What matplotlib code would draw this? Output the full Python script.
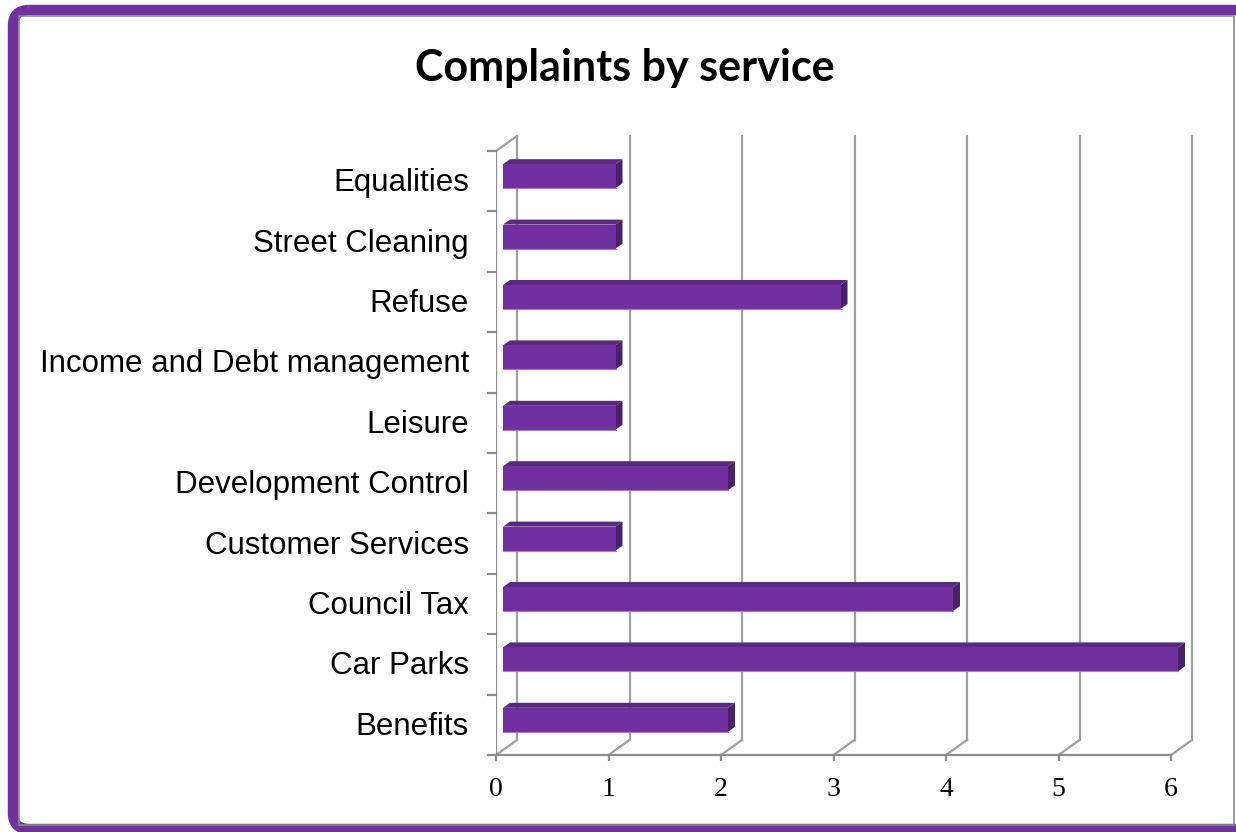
import matplotlib.pyplot as plt
from matplotlib.patches import Polygon, FancyBboxPatch, Rectangle

# data
services = ["Benefits", "Car Parks", "Council Tax", "Customer Services",
            "Development Control", "Leisure", "Income and Debt management",
            "Refuse", "Street Cleaning", "Equalities"]
complaints = [2, 6, 4, 1, 2, 1, 1, 3, 1, 1]
xticks = [0, 1, 2, 3, 4, 5, 6]

W, H = 1236, 832
fig = plt.figure(figsize=(W / 100, H / 100), dpi=100)

# background frame (pixel coordinates)
bg = fig.add_axes([0, 0, 1, 1])
bg.set_xlim(0, W)
bg.set_ylim(H, 0)
bg.axis("off")
bg.add_patch(FancyBboxPatch((13, 10), 1260, 819, boxstyle="round,pad=0,rounding_size=16",
                            fill=False, ec="#7030A0", lw=7.5, clip_on=False))
bg.add_patch(Rectangle((19, 16), 1215, 809, fill=False, ec="#8a8a8a", lw=1.2))

# main axes: front plane x 0..6 -> px 496..1171, y 0..10 -> px 755..151
px_x = (1171 - 496) / 6
px_y = (755 - 151) / 10
x0, x1 = 0, 6.3
y0, y1 = -0.1, 10.4
left = 496 + x0 * px_x
bottom = 755 - y0 * px_y
ax = fig.add_axes([left / W, (H - bottom) / H,
                   (x1 - x0) * px_x / W, (y1 - y0) * px_y / H])
ax.set_xlim(x0, x1)
ax.set_ylim(y0, y1)
ax.axis("off")

DX = 21 / px_x      # depth offset of the back wall
DY = 15 / px_y
dx, dy = DX / 3, DY / 3
n = len(services)
grid_c = "#a0a0a0"

# back wall gridlines and floor diagonals
for t in xticks:
    ax.plot([t + DX, t + DX], [DY, n + DY], color=grid_c, lw=1.6, zorder=1)
    ax.plot([t, t + DX], [0, DY], color=grid_c, lw=1.6, zorder=1)
ax.plot([0, DX], [n, n + DY], color=grid_c, lw=1.6, zorder=1)
# front axes lines
ax.plot([0, 0], [0, n], color="#8c8c8c", lw=1.6, zorder=2)
ax.plot([0, xticks[-1]], [0, 0], color="#8c8c8c", lw=1.6, zorder=2)
for i in range(n + 1):
    ax.plot([-8 / px_x, 0], [i, i], color="#8c8c8c", lw=1.6, zorder=2, clip_on=False)
for t in xticks:
    ax.plot([t, t], [0, -5 / px_y], color="#8c8c8c", lw=1.6, zorder=2, clip_on=False)
    ax.text(t, -35 / px_y, str(t), ha="center", va="center", fontsize=20,
            family="Liberation Serif", clip_on=False)

# 3D bars
bh = 24 / px_y
for i, (name, v) in enumerate(zip(services, complaints)):
    c = i + 0.5 + dy
    b, tp = c - bh / 2, c + bh / 2
    ax.add_patch(Polygon([(dx, tp), (v + dx, tp), (v + 2 * dx, tp + dy), (2 * dx, tp + dy)],
                         closed=True, fc="#5a2782", ec="none", zorder=3))
    ax.add_patch(Polygon([(v + dx, b), (v + 2 * dx, b + dy), (v + 2 * dx, tp + dy), (v + dx, tp)],
                         closed=True, fc="#4b1f6d", ec="none", zorder=3))
    ax.add_patch(Rectangle((dx, b), v, bh, fc="#7030a0", ec="none", zorder=4))
    ax.plot([dx, v + dx], [b, b], color="#a57fc4", lw=0.8, zorder=5)
    ax.text(-27 / px_x, i + 0.5 - 2 / px_y, name, ha="right", va="center", fontsize=22.5,
            family="Liberation Sans", clip_on=False)

fig.text(625 / W, 1 - 68 / H, "Complaints by service", ha="center", va="center",
         fontsize=31, fontweight="bold", family="Lato")

fig.savefig("out.png", dpi=100)
